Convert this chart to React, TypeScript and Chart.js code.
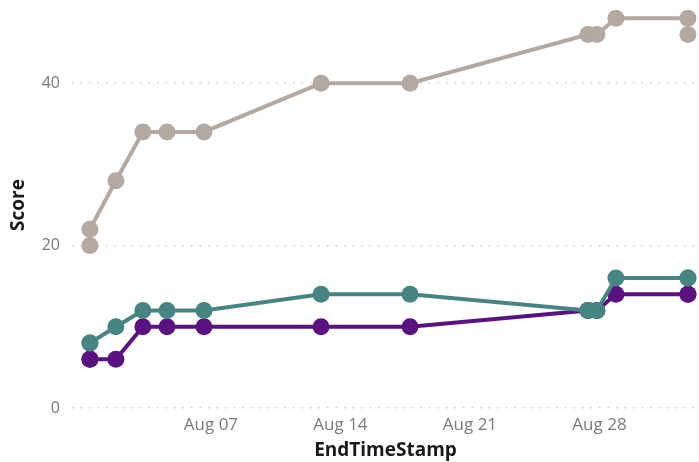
import React, { useEffect, useRef } from 'react';
import { Chart, registerables } from 'chart.js';

Chart.register(...registerables);

// End timestamps (UTC) of each record
const endTimeStamps = [
  '2023-07-31T11:00:00',
  '2023-07-31T11:00:00',
  '2023-08-01T20:40:00',
  '2023-08-03T07:40:00',
  '2023-08-04T15:00:00',
  '2023-08-06T15:00:00',
  '2023-08-12T22:50:00',
  '2023-08-17T18:15:00',
  '2023-08-27T09:00:00',
  '2023-08-27T20:40:00',
  '2023-08-28T21:20:00',
  '2023-09-01T18:45:00',
  '2023-09-01T18:45:00',
];

const grayScores = [20, 22, 28, 34, 34, 34, 40, 40, 46, 46, 48, 48, 46];
const tealScores = [8, 8, 10, 12, 12, 12, 14, 14, 12, 12, 16, 16, 16];
const purpleScores = [6, 6, 6, 10, 10, 10, 10, 10, 12, 12, 14, 14, 14];

const xTickDays = [7, 14, 21, 28]; // days of August
const xTickMonth = 'Aug';
const yTickValues = [0, 20, 40];

const xTitle = 'EndTimeStamp';
const yTitle = 'Score';

const GRAY = '#B3A9A1';
const TEAL = '#478583';
const PURPLE = '#5A1280';

const AUG0 = Date.parse('2023-08-01T00:00:00Z');
const toDay = (ts: string) => (Date.parse(ts + 'Z') - AUG0) / 86400000 + 1;

const FONT = '"Segoe UI", "Open Sans", "Noto Sans", sans-serif';

export default function App() {
  const ref = useRef<HTMLCanvasElement | null>(null);

  useEffect(() => {
    if (!ref.current) return;
    const days = endTimeStamps.map(toDay);
    const mk = (label: string, vals: number[], color: string) => ({
      label,
      data: vals.map((v, i) => ({ x: days[i], y: v })),
      borderColor: color,
      backgroundColor: color,
      pointBackgroundColor: color,
      pointBorderColor: color,
      pointBorderWidth: 0,
      pointRadius: 8.5,
      borderWidth: 4,
      tension: 0,
      fill: false,
      clip: false,
    });
    const chart = new Chart(ref.current, {
      type: 'line',
      data: {
        datasets: [
          mk('Gray', grayScores, GRAY),
          mk('Teal', tealScores, TEAL),
          mk('Purple', purpleScores, PURPLE),
        ],
      },
      options: {
        animation: false,
        responsive: false,
        layout: { autoPadding: false, padding: { top: 2, right: 0, bottom: 0, left: 0 } },
        plugins: { legend: { display: false }, tooltip: { enabled: false } },
        scales: {
          x: {
            type: 'linear',
            min: -0.51,
            max: 33.38,
            afterBuildTicks: (axis: any) => {
              axis.ticks = xTickDays.map((v) => ({ value: v }));
            },
            afterFit: (s: any) => {
              s.height = 54;
              s.paddingLeft = 0;
              s.paddingRight = 0;
            },
            grid: { display: false, drawTicks: false },
            border: { display: false },
            ticks: {
              padding: 7,
              color: '#7a7a7a',
              font: { family: FONT, size: 17 },
              maxRotation: 0,
              autoSkip: false,
              callback: (v: any) => `${xTickMonth} ${String(v).padStart(2, '0')}`,
            },
            title: {
              display: true,
              text: xTitle,
              color: '#1a1a1a',
              font: { family: FONT, size: 19, weight: 'bold' },
              padding: { top: 0, bottom: 0 },
            },
          },
          y: {
            type: 'linear',
            min: 0,
            max: 50,
            afterBuildTicks: (axis: any) => {
              axis.ticks = yTickValues.map((v) => ({ value: v }));
            },
            afterFit: (s: any) => {
              s.width = 72;
              s.paddingTop = 0;
              s.paddingBottom = 0;
            },
            grid: { display: true, drawTicks: false, color: '#cfcfcf', lineWidth: 1.5 },
            border: { display: false, dash: [1.5, 7] },
            ticks: {
              padding: 12,
              color: '#7a7a7a',
              font: { family: FONT, size: 16 },
            },
            title: {
              display: true,
              text: yTitle,
              color: '#1a1a1a',
              font: { family: FONT, size: 19, weight: 'bold' },
              padding: { top: 7, bottom: 0 },
            },
          },
        },
      },
    } as any);
    return () => chart.destroy();
  }, []);

  return (
    <div style={{ position: 'fixed', left: 0, top: 0, width: 699, height: 462, background: '#fff' }}>
      <canvas ref={ref} width={699} height={462} style={{ width: 699, height: 462, display: 'block' }} />
    </div>
  );
}
